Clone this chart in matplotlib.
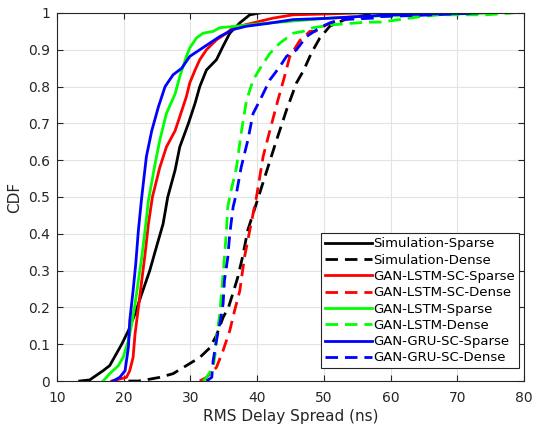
import numpy as np
import matplotlib.pyplot as plt

# CDF curves (x: RMS delay spread in ns, y: CDF)
sim_sparse_x = [13.4, 14.9, 16.9, 17.9, 19.7, 20.7, 21.7, 22.7, 23.9, 24.9, 25.9, 26.6, 27.7, 28.4, 29.7, 30.7, 31.4, 32.4, 33.9, 34.9, 35.9, 37.4, 38.9, 40.4]
sim_sparse_y = [0.0, 0.003, 0.028, 0.042, 0.10, 0.137, 0.183, 0.237, 0.30, 0.364, 0.427, 0.50, 0.573, 0.636, 0.70, 0.755, 0.80, 0.845, 0.873, 0.91, 0.945, 0.973, 0.995, 1.0]

sim_dense_x = [20.7, 22.2, 23.9, 25.4, 27.4, 29.4, 31.4, 32.9, 33.9, 34.9, 35.7, 36.4, 37.1, 37.8, 38.6, 39.4, 40.2, 41.6, 42.9, 44.4, 45.9, 47.0, 48.1, 49.4, 50.9, 52.9, 54.4, 59.9]
sim_dense_y = [0.0, 0.0, 0.005, 0.01, 0.02, 0.042, 0.064, 0.09, 0.124, 0.173, 0.20, 0.24, 0.282, 0.336, 0.41, 0.455, 0.50, 0.58, 0.654, 0.736, 0.81, 0.845, 0.89, 0.932, 0.964, 0.98, 0.99, 1.0]

lstm_sc_sparse_x = [18.2, 20.4, 20.9, 21.4, 21.7, 22.2, 22.7, 23.2, 23.7, 24.3, 25.4, 26.4, 27.7, 28.4, 29.4, 29.9, 30.7, 31.4, 32.4, 33.9, 35.4, 36.4, 39.4, 42.4, 45.4, 50.0, 55.0]
lstm_sc_sparse_y = [0.0, 0.01, 0.028, 0.064, 0.128, 0.20, 0.273, 0.345, 0.427, 0.50, 0.58, 0.636, 0.68, 0.718, 0.773, 0.81, 0.845, 0.873, 0.90, 0.927, 0.945, 0.96, 0.973, 0.986, 0.995, 0.997, 1.0]

lstm_sc_dense_x = [31.4, 32.4, 33.9, 34.9, 35.9, 36.6, 37.4, 38.1, 38.9, 39.4, 39.9, 40.9, 41.9, 43.1, 44.1, 44.9, 46.4, 47.9, 48.7, 50.4, 51.9, 53.9, 57.4, 60.0]
lstm_sc_dense_y = [0.0, 0.01, 0.037, 0.083, 0.137, 0.19, 0.245, 0.336, 0.41, 0.455, 0.50, 0.61, 0.68, 0.762, 0.827, 0.882, 0.925, 0.95, 0.95, 0.968, 0.98, 0.986, 0.99, 1.0]

lstm_sparse_x = [16.9, 17.9, 19.2, 19.9, 20.7, 21.2, 21.7, 22.2, 22.7, 23.2, 23.7, 24.0, 24.7, 25.4, 26.4, 27.7, 28.4, 29.4, 29.9, 30.9, 31.9, 33.4, 34.4, 36.9, 40.0, 50.0, 55.0, 65.0, 75.0]
lstm_sparse_y = [0.0, 0.02, 0.042, 0.064, 0.11, 0.155, 0.21, 0.273, 0.336, 0.41, 0.49, 0.52, 0.59, 0.654, 0.727, 0.78, 0.827, 0.882, 0.905, 0.932, 0.945, 0.95, 0.96, 0.964, 0.97, 0.985, 0.99, 0.995, 1.0]

lstm_dense_x = [31.9, 32.4, 33.4, 33.7, 33.9, 34.4, 34.6, 34.9, 35.1, 35.4, 35.6, 36.0, 36.9, 37.6, 38.4, 39.4, 40.6, 41.9, 43.4, 45.4, 46.9, 48.4, 51.4, 56.4, 58.4, 61.4, 64.4, 67.4, 74.4, 78.4]
lstm_dense_y = [0.0, 0.01, 0.037, 0.073, 0.118, 0.182, 0.227, 0.29, 0.336, 0.41, 0.473, 0.51, 0.58, 0.673, 0.762, 0.818, 0.854, 0.89, 0.918, 0.945, 0.95, 0.96, 0.968, 0.975, 0.975, 0.982, 0.99, 0.995, 0.995, 1.0]

gru_sc_sparse_x = [18.4, 19.4, 20.2, 20.7, 20.9, 21.4, 21.8, 22.2, 22.7, 23.4, 24.2, 25.2, 26.2, 27.4, 28.7, 29.9, 31.4, 32.9, 34.4, 36.4, 38.4, 41.4, 45.4, 50.0, 55.0, 60.0, 73.0]
gru_sc_sparse_y = [0.0, 0.01, 0.028, 0.092, 0.164, 0.245, 0.318, 0.41, 0.50, 0.61, 0.68, 0.745, 0.80, 0.832, 0.85, 0.882, 0.90, 0.918, 0.936, 0.955, 0.964, 0.971, 0.982, 0.985, 0.99, 0.995, 1.0]

gru_sc_dense_x = [32.4, 33.2, 33.4, 33.9, 34.4, 34.9, 35.1, 35.6, 35.9, 36.4, 36.9, 37.6, 38.6, 39.4, 40.4, 41.9, 43.4, 44.4, 45.9, 47.4, 49.4, 50.9, 52.9, 57.4, 58.4, 66.4, 72.9]
gru_sc_dense_y = [0.0, 0.01, 0.055, 0.11, 0.155, 0.21, 0.273, 0.336, 0.40, 0.473, 0.51, 0.58, 0.654, 0.727, 0.762, 0.818, 0.854, 0.882, 0.90, 0.936, 0.96, 0.973, 0.982, 0.986, 0.99, 0.995, 1.0]

labels = ["Simulation-Sparse", "Simulation-Dense",
          "GAN-LSTM-SC-Sparse", "GAN-LSTM-SC-Dense",
          "GAN-LSTM-Sparse", "GAN-LSTM-Dense",
          "GAN-GRU-SC-Sparse", "GAN-GRU-SC-Dense"]
series = [(sim_sparse_x, sim_sparse_y), (sim_dense_x, sim_dense_y),
          (lstm_sc_sparse_x, lstm_sc_sparse_y), (lstm_sc_dense_x, lstm_sc_dense_y),
          (lstm_sparse_x, lstm_sparse_y), (lstm_dense_x, lstm_dense_y),
          (gru_sc_sparse_x, gru_sc_sparse_y), (gru_sc_dense_x, gru_sc_dense_y)]
colors = ["k", "k", "r", "r", "#00ff00", "#00ff00", "b", "b"]
styles = ["-", "--", "-", "--", "-", "--", "-", "--"]

fig = plt.figure(figsize=(5.33, 4.32), dpi=100)
ax = fig.add_axes([0.107, 0.118, 0.876, 0.852])

for (x, y), c, ls, lab in zip(series, colors, styles, labels):
    line, = ax.plot(x, y, color=c, linestyle=ls, linewidth=2, label=lab)
    if ls == "--":
        line.set_dashes([4.5, 2.5])

ax.set_xlim(10, 80)
ax.set_ylim(0, 1)
ax.set_xticks(np.arange(10, 81, 10))
ax.set_yticks(np.arange(0, 1.01, 0.1))
ax.set_yticklabels(["0", "0.1", "0.2", "0.3", "0.4", "0.5", "0.6", "0.7", "0.8", "0.9", "1"])
ax.grid(True, color="#e3e3e3", linewidth=0.8)
ax.set_axisbelow(True)
ax.tick_params(direction="in", top=True, right=True, labelsize=10, colors="#262626", length=4)
ax.tick_params(axis="x", pad=7)
ax.tick_params(axis="y", pad=5)
for s in ax.spines.values():
    s.set_color("#262626")
    s.set_linewidth(0.8)
ax.set_xlabel("RMS Delay Spread (ns)", fontsize=11, color="#262626", labelpad=3)
ax.set_ylabel("CDF", fontsize=11, color="#262626")

leg = ax.legend(loc="lower right", fontsize=9.5, frameon=True, fancybox=False,
                edgecolor="#262626", framealpha=1, handlelength=3.5,
                handletextpad=0.1, labelspacing=0.25, borderpad=0.3,
                borderaxespad=0.4, bbox_to_anchor=(1.0, 0.02))
leg.get_frame().set_linewidth(0.8)

fig.savefig("out.png", dpi=100)
